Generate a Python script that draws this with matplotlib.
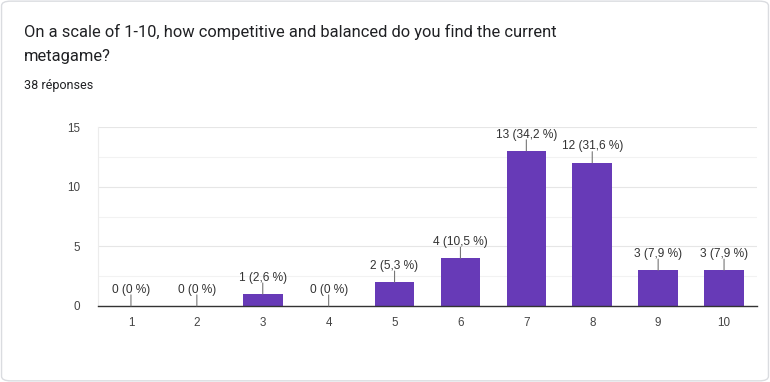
import matplotlib.pyplot as plt
from matplotlib.patches import FancyBboxPatch

# data
scores = ["1", "2", "3", "4", "5", "6", "7", "8", "9", "10"]
counts = [0, 0, 1, 0, 2, 4, 13, 12, 3, 3]
percents = ["0", "0", "2,6", "0", "5,3", "10,5", "34,2", "31,6", "7,9", "7,9"]

plt.rcParams['font.family'] = ['Roboto', 'DejaVu Sans']
chart_font = ['Liberation Sans', 'DejaVu Sans']

fig = plt.figure(figsize=(7.7, 3.82), dpi=100)

# card border, kept behind the axes
card = FancyBboxPatch((0.002, 0.003), 0.996, 0.994,
                      boxstyle="round,pad=0,rounding_size=0.012",
                      transform=fig.transFigure, facecolor='white',
                      edgecolor='#dadce0', linewidth=1.0, zorder=-10)
fig.patches.append(card)

fig.text(24 / 770, 1 - 32 / 382,
         "On a scale of 1-10, how competitive and balanced do you find the current",
         fontsize=11.9, color='#202124', va='center', ha='left')
fig.text(24 / 770, 1 - 57 / 382, "metagame?",
         fontsize=11.9, color='#202124', va='center', ha='left')
fig.text(24 / 770, 1 - 85 / 382, "38 réponses",
         fontsize=9, color='#202124', va='center', ha='left')

ax = fig.add_axes([98 / 770, 1 - 306 / 382, 659 / 770, 179 / 382])
ax.patch.set_visible(False)
x = range(len(scores))
ax.bar(x, counts, width=0.6, color='#673ab7', zorder=3)

ax.set_xlim(-0.5, len(scores) - 0.5)
ax.set_ylim(0, 15)
ax.set_yticks([0, 5, 10, 15])
ax.set_yticks([2.5, 7.5, 12.5], minor=True)
ax.set_xticks(list(x))
ax.set_xticklabels(scores)
ax.tick_params(axis='both', length=0, labelsize=8.4, colors='#444444')
ax.tick_params(axis='y', which='minor', length=0)
ax.tick_params(axis='x', pad=8)
ax.tick_params(axis='y', pad=13)
for lbl in ax.get_xticklabels() + ax.get_yticklabels():
    lbl.set_family(chart_font)
ax.grid(axis='y', which='major', color='#e6e6e6', linewidth=0.8, zorder=0)
ax.grid(axis='y', which='minor', color='#f2f2f2', linewidth=0.8, zorder=0)

for side in ['top', 'right']:
    ax.spines[side].set_visible(False)
ax.spines['left'].set_color('#ececec')
ax.spines['left'].set_linewidth(0.8)
ax.spines['bottom'].set_color('#333333')
ax.spines['bottom'].set_linewidth(1.0)
ax.spines['bottom'].set_zorder(4)

for i, (c, p) in enumerate(zip(counts, percents)):
    ax.annotate("", xy=(i, c), xytext=(0, 8), textcoords='offset points',
                arrowprops=dict(arrowstyle='-', color='#777777', lw=0.8,
                                shrinkA=0, shrinkB=0), zorder=5)
    ax.annotate(f"{c} ({p} %)", xy=(i, c), xytext=(0, 9.6),
                textcoords='offset points', ha='center', va='baseline',
                fontsize=8.6, color='#333333', family=chart_font, zorder=5)

fig.savefig("out.png", dpi=100)
